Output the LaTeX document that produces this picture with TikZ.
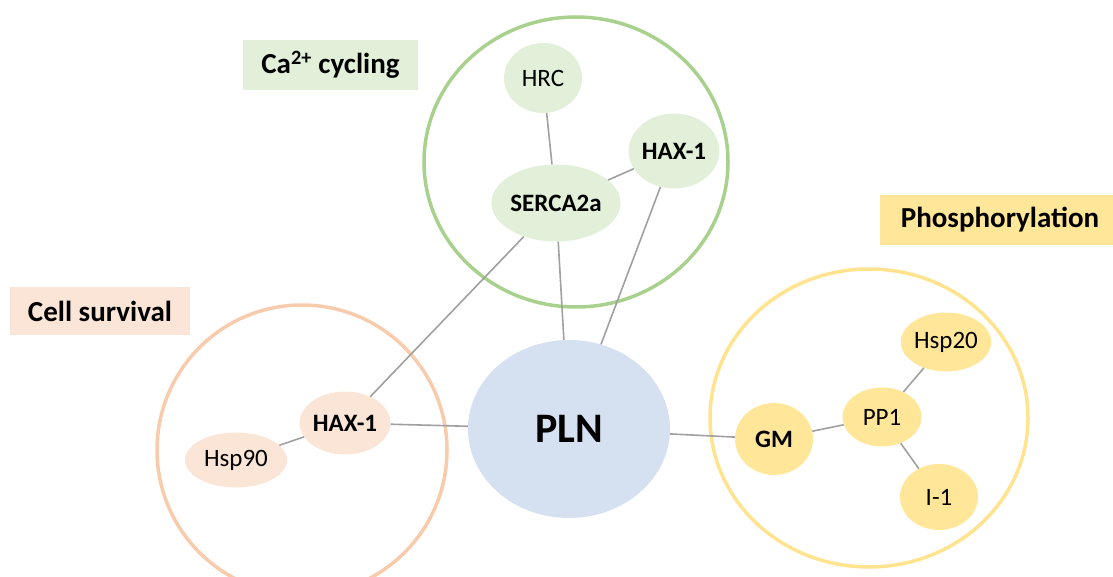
\documentclass[tikz,border=0pt]{standalone}
\usepackage{fontspec}
\setmainfont{Carlito}
\usetikzlibrary{shapes.geometric}
\definecolor{gfill}{HTML}{E2F0D9}
\definecolor{gline}{HTML}{A9D18E}
\definecolor{ofill}{HTML}{FBE5D6}
\definecolor{oline}{HTML}{F8CBAD}
\definecolor{yfill}{HTML}{FFE699}
\definecolor{yline}{HTML}{FFE38F}
\definecolor{bfill}{HTML}{D5E1F1}
\definecolor{edgec}{HTML}{A0A0A0}
\tikzset{
  grp/.style={ellipse, draw=#1, line width=3.5pt, inner sep=0pt},
  prot/.style={ellipse, fill=#1, inner sep=0pt, text=black, font=\fontsize{25}{30}\selectfont},
  lbl/.style={fill=#1, minimum height=50pt, inner sep=0pt, text=black, font=\fontsize{29}{34}\selectfont\bfseries},
  link/.style={draw=edgec, line width=1.6pt},
}
\begin{document}
\begin{tikzpicture}[x=1pt,y=-1pt]
\useasboundingbox (0,0) rectangle (1113,577);
% group circles
\node[grp=gline, minimum width=304pt, minimum height=290pt] (ggrp) at (576,162) {};
\node[grp=oline, minimum width=290pt, minimum height=290pt] (ogrp) at (302,450) {};
\node[grp=yline, minimum width=318pt, minimum height=298pt] (ygrp) at (869,418) {};
% labels
\node[lbl=gfill, minimum width=175pt] (lca) at (330.5,65) {Ca\textsuperscript{2+} cycling};
\node[lbl=ofill, minimum width=180pt, minimum height=48pt] (lcell) at (100,311) {Cell survival};
\node[lbl=yfill, minimum width=240pt] (lphos) at (1000,220) {Phosphorylation};
% proteins
\node[prot=bfill, minimum width=202pt, minimum height=178pt, font=\fontsize{42}{48}\selectfont\bfseries] (pln) at (569,429) {PLN};
\node[prot=gfill, minimum width=78pt, minimum height=70pt] (hrc) at (543,78) {HRC};
\node[prot=gfill, minimum width=102pt, minimum height=77pt, font=\fontsize{25}{30}\selectfont\bfseries] (serca) at (556,203) {SERCA2a};
\node[prot=gfill, minimum width=74pt, minimum height=75pt, font=\fontsize{25}{30}\selectfont\bfseries] (haxg) at (674,151) {HAX-1};
\node[prot=ofill, minimum width=80pt, minimum height=63pt, font=\fontsize{25}{30}\selectfont\bfseries] (haxo) at (345,423) {HAX-1};
\node[prot=ofill, minimum width=102pt, minimum height=55pt] (hsp90) at (236,460) {Hsp90};
\node[prot=yfill, minimum width=78pt, minimum height=72pt, font=\fontsize{25}{30}\selectfont\bfseries] (gm) at (774,439) {GM};
\node[prot=yfill, minimum width=79pt, minimum height=59pt] (pp1) at (882,417) {PP1};
\node[prot=yfill, minimum width=78pt, minimum height=59pt] (hsp20) at (946,342) {Hsp20};
\node[prot=yfill, minimum width=78pt, minimum height=66pt] (i1) at (939,497) {I-1};
% connectors
\draw[link] (hrc) -- (serca);
\draw[link] (serca) -- (haxg);
\draw[link] (serca) -- (pln);
\draw[link] (haxg) -- (pln);
\draw[link] (serca) -- (haxo);
\draw[link] (haxo) -- (hsp90);
\draw[link] (haxo) -- (pln);
\draw[link] (pln) -- (gm);
\draw[link] (gm) -- (pp1);
\draw[link] (pp1) -- (hsp20);
\draw[link] (pp1) -- (i1);
\end{tikzpicture}
\end{document}
